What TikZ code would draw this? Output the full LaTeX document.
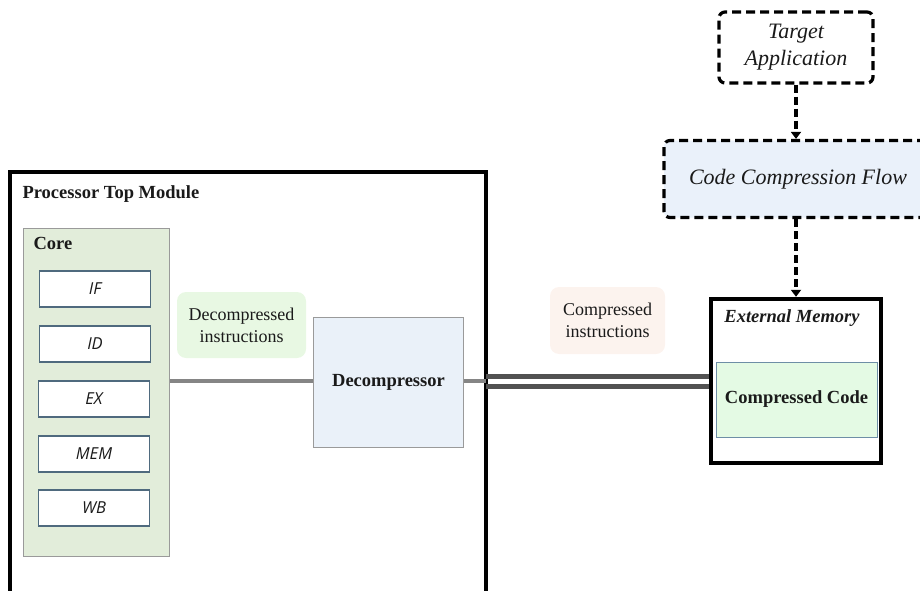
\documentclass[tikz,border=0pt]{standalone}
\usepackage{fontspec}
\setmainfont{Liberation Serif}
\newfontfamily\stagefont{Open Sans}
\usetikzlibrary{arrows.meta}
\definecolor{coregreen}{HTML}{E2EDDA}
\definecolor{coreedge}{HTML}{9A9A9A}
\definecolor{stageedge}{HTML}{4F6A7E}
\definecolor{decblue}{HTML}{EAF1F9}
\definecolor{labgreen}{HTML}{E8F8E3}
\definecolor{labpeach}{HTML}{FCF3EE}
\definecolor{codegreen}{HTML}{E4FAE4}
\definecolor{codeedge}{HTML}{6E8EA6}
\definecolor{flowblue}{HTML}{EAF1FA}
\definecolor{wiregray}{HTML}{858585}
\definecolor{busgray}{HTML}{525252}
\definecolor{ink}{HTML}{1A1A1A}
\tikzset{
  x=1pt, y=-1pt,
  every node/.style={text=ink},
  stagebox/.style={draw=stageedge, line width=1.3pt, fill=white, minimum width=111pt, minimum height=36pt,
    inner sep=0pt, font=\stagefont\itshape\fontsize{16.5}{18}\selectfont},
  labbox/.style={rounded corners=9pt, align=center, inner sep=0pt, font=\fontsize{18}{22}\selectfont},
  dashbox/.style={draw=black, line width=3.2pt, dash pattern=on 9pt off 5pt, rounded corners=6pt,
    align=center, inner sep=0pt, font=\itshape\fontsize{22}{27}\selectfont},
  dasharrow/.style={line width=3.4pt, dash pattern=on 8pt off 4pt, -{Triangle[length=7pt,width=10pt]}},
}
\begin{document}
\begin{tikzpicture}
\useasboundingbox (0,0) rectangle (920,591);
% processor top module
\draw[line width=4.4pt] (10,598) -- (10,172) -- (486,172) -- (486,598);
\node[anchor=base west, font=\bfseries\fontsize{18.5}{20}\selectfont] (ptmtitle) at (19,198) {Processor Top Module};
% core with pipeline stages
\node[draw=coreedge, line width=1pt, fill=coregreen, minimum width=146pt, minimum height=328pt, inner sep=0pt] (core) at (96,392) {};
\node[anchor=base west, font=\bfseries\fontsize{18.5}{20}\selectfont] (coretitle) at (30,249) {Core};
\node[stagebox] (if)  at (95,289) {IF};
\node[stagebox] (id)  at (95,344) {ID};
\node[stagebox] (ex)  at (94,399) {EX};
\node[stagebox] (mem) at (94,454) {MEM};
\node[stagebox] (wb)  at (94,508) {WB};
% decompressor
\node[draw=coreedge, line width=1pt, fill=decblue, minimum width=150pt, minimum height=130pt, inner sep=0pt,
  font=\bfseries\fontsize{18.5}{20}\selectfont] (dec) at (388.5,382) {Decompressor};
\node[labbox, fill=labgreen, minimum width=129pt, minimum height=66pt] (declab) at (241.5,325) {Decompressed\\instructions};
\node[labbox, fill=labpeach, minimum width=115pt, minimum height=67pt] (complab) at (607.5,320.5) {Compressed\\instructions};
% external memory
\node[draw=black, line width=4.4pt, minimum width=170pt, minimum height=164pt, inner sep=0pt] (extmem) at (796,381) {};
\node[font=\bfseries\itshape\fontsize{18.5}{20}\selectfont] (extlab) at (792,318) {External Memory};
\node[draw=codeedge, line width=1pt, fill=codegreen, minimum width=161pt, minimum height=75pt, inner sep=0pt,
  font=\bfseries\fontsize{18.5}{20}\selectfont] (code) at (796.5,399.5) {Compressed Code};
% wires
\coordinate (tapL) at (486,381);
\draw[wiregray, line width=3.8pt] (core.east |- 0,381) -- (dec.west |- 0,381);
\draw[wiregray, line width=3.8pt] (dec.east |- 0,381) -- (tapL);
\draw[busgray, line width=5pt] (486,376) -- (extmem.west |- 0,376);
\draw[busgray, line width=5pt] (486,386.5) -- (extmem.west |- 0,386.5);
% compression flow
\node[dashbox, minimum width=154pt, minimum height=71pt] (target) at (796,47.5) {Target\\Application};
\node[dashbox, fill=flowblue, minimum width=268pt, minimum height=77pt] (flow) at (798,179) {Code Compression Flow};
\draw[dasharrow] (target.south -| 796,0) -- (flow.north -| 796,0);
\draw[dasharrow] (flow.south -| 796,0) -- (extmem.north -| 796,0);
\end{tikzpicture}
\end{document}
